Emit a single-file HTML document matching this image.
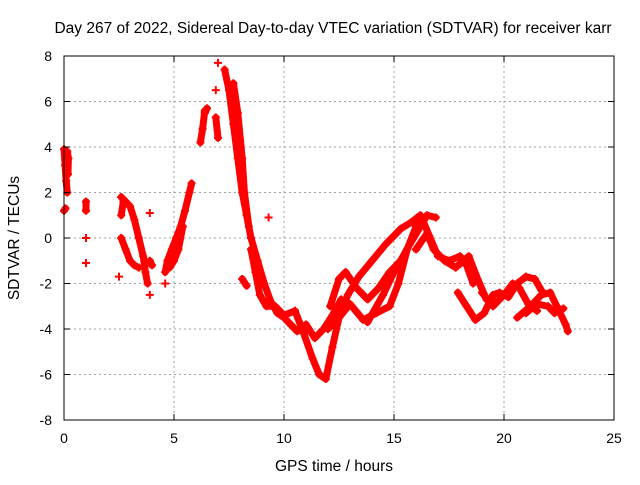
<!DOCTYPE html>
<html><head><meta charset="utf-8"><style>
body{margin:0;background:#fff}
svg text{font-family:"Liberation Sans",sans-serif;fill:#000}
</style></head><body>
<svg width="640" height="480" xmlns="http://www.w3.org/2000/svg">
<text x="333" y="33" font-size="15.5" text-anchor="middle">Day 267 of 2022, Sidereal Day-to-day VTEC variation (SDTVAR) for receiver karr</text>
<g id="grid"></g>
<g id="series"></g>
<rect x="64" y="56" width="550" height="364" fill="none" stroke="#000" stroke-width="1"/>
<g id="ticks"></g>
<text x="334" y="471" font-size="15.5" text-anchor="middle">GPS time / hours</text>
<text transform="translate(19,238) rotate(-90)" font-size="15.5" text-anchor="middle">SDTVAR / TECUs</text>
</svg>
<script>
const xTicks=[0,5,10,15,20,25];
const yTicks=[-8,-6,-4,-2,0,2,4,6,8];
const trackEarly=[[[0,3.9],[0.05,3.2],[0.1,2.5],[0.15,2.0]],[[0,1.2],[0.07,1.3]],[[0.15,3.8],[0.2,3.5],[0.18,2.8]],[[1,1.6],[1,1.2]],[[1,0]],[[1,-1.1]]];
const trackB=[[[2.6,1.8],[2.8,1.6],[3.0,1.4],[3.2,0.8],[3.4,0],[3.6,-0.8],[3.7,-1.5],[3.8,-2.0]],[[2.6,0],[2.8,-0.5],[3.0,-1.0],[3.2,-1.2],[3.4,-1.3]],[[2.6,1.0],[2.7,1.6]],[[2.5,-1.7]],[[3.9,1.1]],[[3.9,-2.5]],[[3.9,-1.0],[4.0,-1.2]]];
const trackC=[[[4.6,-1.5],[4.7,-1.0],[4.9,-0.5],[5.1,0],[5.3,0.5],[5.5,1.2],[5.7,2.0],[5.8,2.4]],[[4.8,-1.3],[5.0,-1.0],[5.2,-0.5],[5.4,0.5]],[[4.6,-2.0]],[[6.2,4.2],[6.3,4.8],[6.4,5.6]],[[6.4,5.5],[6.5,5.7]],[[7.0,7.7]],[[6.9,6.5]],[[6.9,5.3],[7.0,4.4]]];
const trackMain=[[[7.3,7.4],[7.5,6.5],[7.7,5.0],[7.9,3.5],[8.1,2.0],[8.3,1.0],[8.5,0],[8.8,-1],[9.1,-2],[9.4,-2.8],[9.7,-3.3],[10.0,-3.5],[10.3,-3.8],[10.6,-4.1],[11.0,-3.8],[11.4,-4.4],[11.8,-4.0],[12.2,-3.4],[12.6,-2.7]],
[[7.7,6.8],[7.9,5.5],[8.1,3.5],[8.2,2.0],[8.4,0.5]],
[[8.5,-0.5],[8.7,-1.5],[8.9,-2.5],[9.2,-3.0],[9.6,-3.0],[10.0,-3.4],[10.5,-3.2],[10.9,-4.2],[11.3,-5.3],[11.6,-6.0],[11.9,-6.2],[12.2,-4.8],[12.5,-3.5],[12.9,-2.5],[13.4,-1.7],[14,-1.0],[14.6,-0.3],[15.3,0.4],[15.8,0.7],[16.2,1.0]],
[[9.3,0.9]],[[8.1,-1.8],[8.3,-2.1]]];
const trackLate=[[[12.1,-3.0],[12.5,-1.8],[12.8,-1.5],[13.3,-2.2],[13.8,-2.7],[14.3,-2.2],[14.8,-1.5],[15.3,-1.0],[15.7,-0.3],[16.2,0.5],[16.5,1.0],[16.9,0.9]],
[[12.0,-4.0],[12.5,-3.5],[13.0,-2.9],[13.6,-3.6],[14.2,-3.3],[14.8,-3.0],[15.2,-2.0],[15.6,-0.5],[16.0,0.5],[16.3,0.8],[16.6,0.1],[17.0,-0.8],[17.5,-1.0],[18.0,-0.8],[18.3,-1.2],[18.6,-2.0]],
[[16.0,-0.5],[16.5,0.2],[16.8,-0.5],[17.3,-1.0],[17.8,-1.3],[18.4,-0.8],[18.8,-1.8],[19.2,-2.7],[19.6,-2.8]],
[[17.9,-2.4],[18.3,-3.0],[18.7,-3.6],[19.1,-3.3],[19.5,-2.5],[19.8,-2.4],[20.2,-2.6],[20.6,-2.0],[21.0,-1.7],[21.4,-1.8],[21.7,-2.3]],
[[19.0,-2.4],[19.5,-3.0],[20.0,-2.5],[20.4,-2.0],[20.7,-2.2],[21.1,-2.9],[21.5,-3.2]],
[[20.6,-3.5],[21.2,-3.0],[21.7,-2.5],[22.1,-2.4],[22.4,-3.0],[22.8,-3.8],[22.9,-4.1]],
[[21.0,-3.3],[21.5,-2.9],[22.0,-3.0],[22.3,-3.3],[22.7,-3.1]],
[[13.8,-3.7],[14.5,-2.5],[15.0,-1.5],[15.3,-1.0]]];
const NS="http://www.w3.org/2000/svg";
const xs=t=>64+t*22, ys=v=>238-v*22.75;
const grid=document.getElementById('grid'),ticks=document.getElementById('ticks'),ser=document.getElementById('series');
function mk(tag,at,parent){const e=document.createElementNS(NS,tag);for(const k in at)e.setAttribute(k,at[k]);parent.appendChild(e);return e;}
xTicks.forEach(t=>{const x=xs(t);
 if(t>0&&t<25){const g=mk('line',{x1:x,x2:x,y1:56,y2:420,stroke:'#a0a0a0','stroke-dasharray':'2,3'},grid);
 
 }
 mk('line',{x1:x,x2:x,y1:420,y2:414,stroke:'#000'},ticks);mk('line',{x1:x,x2:x,y1:56,y2:62,stroke:'#000'},ticks);
 const l=mk('text',{x:x,y:443,'font-size':14,'text-anchor':'middle'},ticks);l.textContent=t;
 
 });
yTicks.forEach(v=>{const y=ys(v);
 if(v>-8&&v<8){const g=mk('line',{x1:64,x2:614,y1:y,y2:y,stroke:'#a0a0a0','stroke-dasharray':'2,3'},grid);
 
 }
 mk('line',{x1:64,x2:70,y1:y,y2:y,stroke:'#000'},ticks);mk('line',{x1:614,x2:608,y1:y,y2:y,stroke:'#000'},ticks);
 const l=mk('text',{x:52,y:y+5,'font-size':14,'text-anchor':'end'},ticks);l.textContent=v;
 
 });
[trackEarly,trackB,trackC,trackMain,trackLate].forEach(set=>set.forEach(tr=>{
 const pts=tr.map(p=>xs(p[0])+','+ys(p[1])).join(' ');
 if(tr.length>1){const pl=mk('polyline',{points:pts,fill:'none',stroke:'#ff0000','stroke-width':7,'stroke-linejoin':'round','stroke-linecap':'round'},ser);
 
 }
 tr.forEach(p=>{const x=xs(p[0]),y=ys(p[1]);
  const m=mk('path',{d:`M${x-4},${y}H${x+4}M${x},${y-4}V${y+4}`,stroke:'#ff0000','stroke-width':2},ser);
  
  });
}));
</script>
</body></html>
